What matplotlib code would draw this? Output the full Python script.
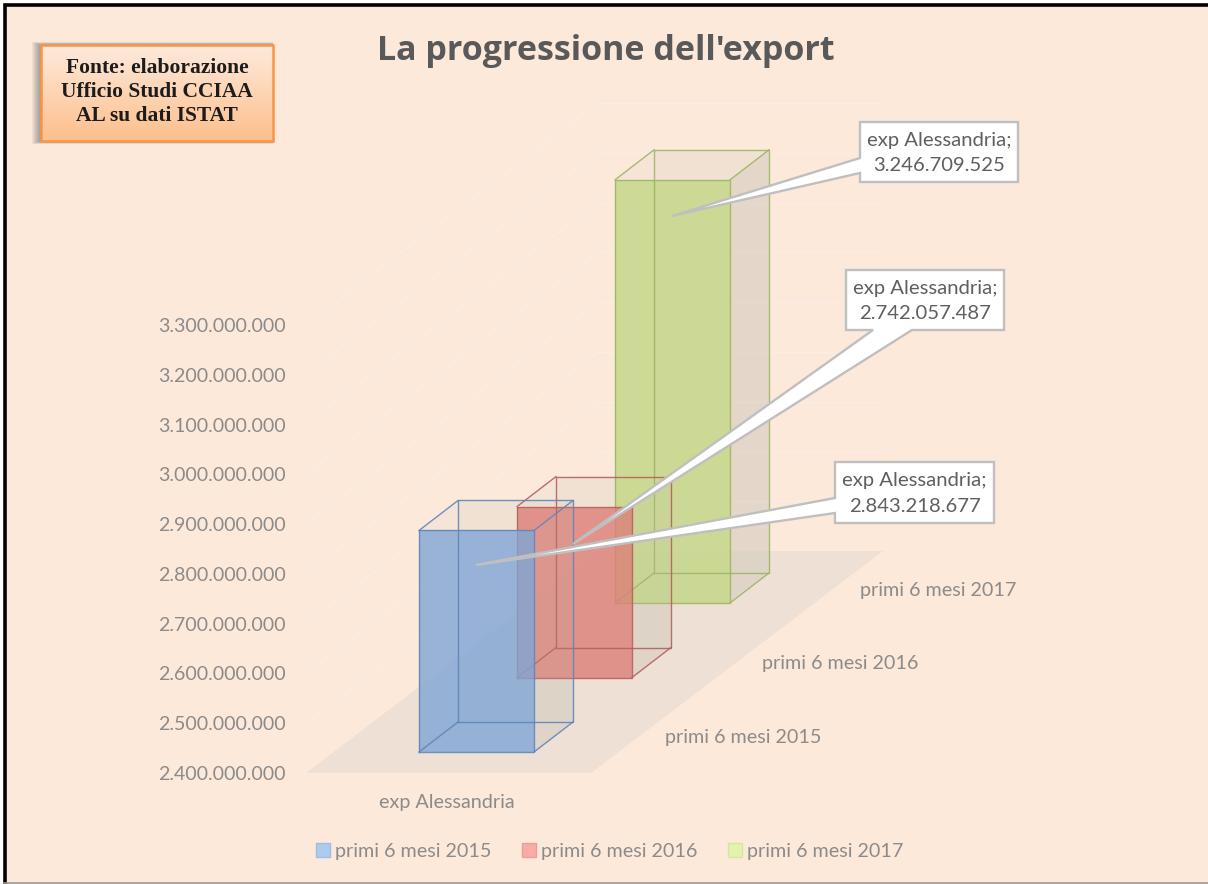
import matplotlib
matplotlib.use("Agg")
import matplotlib.pyplot as plt
import numpy as np
from matplotlib.patches import Polygon, Rectangle, Patch

# ---------- data ----------
category = "exp Alessandria"
series = ["primi 6 mesi 2015", "primi 6 mesi 2016", "primi 6 mesi 2017"]
values = [2843218677, 2742057487, 3246709525]
y_ticks = [2400000000, 2500000000, 2600000000, 2700000000, 2800000000,
           2900000000, 3000000000, 3100000000, 3200000000, 3300000000]
title = "La progressione dell'export"
source_lines = "Fonte: elaborazione\nUfficio Studi CCIAA\nAL su dati ISTAT"

# ---------- style / layout ----------
W, H = 1208, 884
BG = "#fde9da"
front = ["#7fa6d6", "#dc7f78", "#c2d784"]
edges = ["#5f86bb", "#b5605c", "#9db566"]
swatch = ["#aecbee", "#f9aba8", "#e3f3ae"]
swatch_edge = ["#9dbde6", "#eb9f9c", "#d5e6a0"]
FONT = "Lato"
TICK_C = "#8b8b8b"
TXT_C = "#5f5f5f"

plt.rcParams["font.family"] = FONT
fig = plt.figure(figsize=(W / 100, H / 100), dpi=100, facecolor="white")

# pixel-space layer for decoration
deco = fig.add_axes([0, 0, 1, 1], zorder=0)
deco.set_xlim(0, W)
deco.set_ylim(H, 0)
deco.axis("off")
deco.add_patch(Rectangle((4.5, 4.5), W + 20, H + 20, fc=BG, ec="black", lw=2.6, zorder=0))
deco.plot([4, W], [883, 883], color="#a09890", lw=1.2, zorder=1)

# chart layer: y axis in data values, x axis in pixels
X0, Y_BOTTOM, Y_TOP = 306, 773, 325
ax = fig.add_axes([X0 / W, 1 - Y_BOTTOM / H, (W - X0) / W, (Y_BOTTOM - Y_TOP) / H], zorder=1)
ax.patch.set_alpha(0)
ax.set_xlim(X0, W)
ax.set_ylim(y_ticks[0], y_ticks[-1])
for s in ax.spines.values():
    s.set_visible(False)
ax.set_yticks(y_ticks, [f"{v:,}".replace(",", ".") for v in y_ticks])
ax.tick_params(axis="y", length=0, pad=14.8, labelsize=14.1, labelcolor=TICK_C)
ax.set_xticks([447], [category])
ax.tick_params(axis="x", length=0, pad=15.2, labelsize=14.2, labelcolor=TICK_C)

per_px = (y_ticks[-1] - y_ticks[0]) / (Y_BOTTOM - Y_TOP)   # value units per pixel
floor_w, floor_dx, floor_dy = 285, 292, 222 * per_px
y0 = y_ticks[0]

# side/back walls faint gridlines and floor
for v in y_ticks[1:]:
    ax.plot([X0, X0 + floor_dx], [v, v + floor_dy], color="#f9eee5", lw=0.9, zorder=1, clip_on=False)
    ax.plot([X0 + floor_dx, X0 + floor_dx + floor_w], [v + floor_dy] * 2, color="#f9eee5", lw=0.9, zorder=1, clip_on=False)
ax.add_patch(Polygon([(X0, y0), (X0 + floor_w, y0), (X0 + floor_w + floor_dx, y0 + floor_dy),
                      (X0 + floor_dx, y0 + floor_dy)], closed=True, fc="#eee0d4", ec="none", zorder=2, clip_on=False))

# 3D bars (oblique projection); the value sets the bar's height
bar_x = 419
bar_w, step_x, step_v = 115, 98, 74.5 * per_px
base_v = y0 + 21 * per_px
depth_x, depth_v = 39, 30 * per_px
HEIGHT_SCALE = 1.004

for i in [2, 1, 0]:
    z = 4 + (2 - i) * 2
    x = bar_x + i * step_x
    b = base_v + i * step_v
    t = b + (values[i] - y0) * HEIGHT_SCALE
    c, e = front[i], edges[i]
    dx, dv = depth_x, depth_v

    def face(pts, fc, a, zz):
        ax.add_patch(Polygon(pts, closed=True, fc=fc, alpha=a, ec="none", zorder=zz, clip_on=False))

    # back, right side and top sit beneath all the fronts
    face([(x + dx, b + dv), (x + bar_w + dx, b + dv), (x + bar_w + dx, t + dv), (x + dx, t + dv)], "#d9d0c4", 0.14, 3)
    face([(x + bar_w, b), (x + bar_w + dx, b + dv), (x + bar_w + dx, t + dv), (x + bar_w, t)], "#cfc8bd", 0.38, 3)
    face([(x, t), (x + bar_w, t), (x + bar_w + dx, t + dv), (x + dx, t + dv)], "#d9d0c4", 0.18, 3)
    # front
    face([(x, b), (x + bar_w, b), (x + bar_w, t), (x, t)], c, 0.80, z)
    # a slight veil of the right side over anything behind it
    face([(x + bar_w, b), (x + bar_w + dx, b + dv), (x + bar_w + dx, t + dv), (x + bar_w, t)], "#cfc8bd", 0.10, z)
    # wireframe
    segs = [[(x, b), (x + bar_w, b), (x + bar_w, t), (x, t), (x, b)],
            [(x + dx, b + dv), (x + bar_w + dx, b + dv), (x + bar_w + dx, t + dv), (x + dx, t + dv), (x + dx, b + dv)],
            [(x, b), (x + dx, b + dv)], [(x + bar_w, b), (x + bar_w + dx, b + dv)],
            [(x, t), (x + dx, t + dv)], [(x + bar_w, t), (x + bar_w + dx, t + dv)]]
    for sg in segs:
        p = np.array(sg, dtype=float)
        ax.plot(p[:, 0], p[:, 1], color=e, lw=1.0, alpha=0.9, zorder=z + 0.5, clip_on=False, solid_joinstyle="miter")

# category depth labels
for i, s in enumerate(series):
    ax.text(665 + i * step_x - i * 0.5, y0 + (35 + i * 74) * per_px, s, fontsize=14.2, color=TICK_C, ha="left",
            va="center", zorder=10, clip_on=False)

# callouts drawn on top layer (pixel space)
top = fig.add_axes([0, 0, 1, 1], zorder=2)
top.set_xlim(0, W)
top.set_ylim(H, 0)
top.axis("off")
callouts = [
    (2, (860, 122, 1018, 182), [(860, 158), (672, 216), (860, 173)], "left"),
    (1, (846, 270, 1004, 330), [(912, 330), (573, 544), (873, 330)], "bottom"),
    (0, (835, 462, 994, 523), [(835, 498), (476, 565), (835, 513)], "left"),
]
for idx, (x0, y1, x1, y2), tail, side in callouts:
    if side == "left":
        pts = [(x0, y1), (x1, y1), (x1, y2), (x0, y2), tail[2], tail[1], tail[0]]
    else:
        pts = [(x0, y1), (x1, y1), (x1, y2), tail[0], tail[1], tail[2], (x0, y2)]
    top.add_patch(Polygon(pts, closed=True, fc="white", ec="#bfbfbf", lw=1.7, zorder=5, joinstyle="miter"))
    label = f"{category};\n" + f"{values[idx]:,}".replace(",", ".")
    top.text((x0 + x1) / 2, (y1 + y2) / 2 + 1, label, ha="center", va="center", fontsize=14.6, color=TXT_C,
             linespacing=1.6, zorder=6)

# title
top.text(606, 50.5, title, ha="center", va="center", fontsize=24.5, family="Open Sans", fontweight="bold",
         color="#595959")

# source box with gradient and shadow
bx0, by0, bx1, by1 = 41, 45, 273, 141
for k in range(1, 10):
    top.add_patch(Rectangle((bx0 - k, by0 - k * 0.35), bx1 - bx0 + k, by1 - by0 + k * 0.7, fc="#5a5a5a", ec="none",
                            alpha=0.075, zorder=2))
grad = np.linspace(0, 1, 100).reshape(-1, 1, 1)
c1, c2 = np.array([0xfe, 0xea, 0xdc]) / 255, np.array([0xfd, 0xbf, 0x8c]) / 255
top.imshow(c1 + (c2 - c1) * grad, extent=(bx0, bx1, by1, by0), aspect="auto", zorder=3, origin="upper")
top.add_patch(Rectangle((bx0, by0), bx1 - bx0, by1 - by0, fc="none", ec="#f79646", lw=1.8, zorder=4))
top.text((bx0 + bx1) / 2, (by0 + by1) / 2 - 1, source_lines, ha="center", va="center", fontsize=15.5,
         family="Liberation Serif", fontweight="bold", color="#1c1c1c", linespacing=1.27, zorder=5)
top.set_xlim(0, W)
top.set_ylim(H, 0)

# legend
handles = [Patch(fc=swatch[i], ec=swatch_edge[i], lw=1) for i in range(3)]
leg = fig.legend(handles, series, ncol=3, frameon=False, loc="center left",
                 bbox_to_anchor=(316 / W, 1 - 851 / H), fontsize=14.2, labelcolor=TICK_C,
                 handlelength=0.7, handleheight=0.7, handletextpad=0.25, columnspacing=1.57,
                 borderpad=0, borderaxespad=0)

fig.savefig("out.png", dpi=100)
